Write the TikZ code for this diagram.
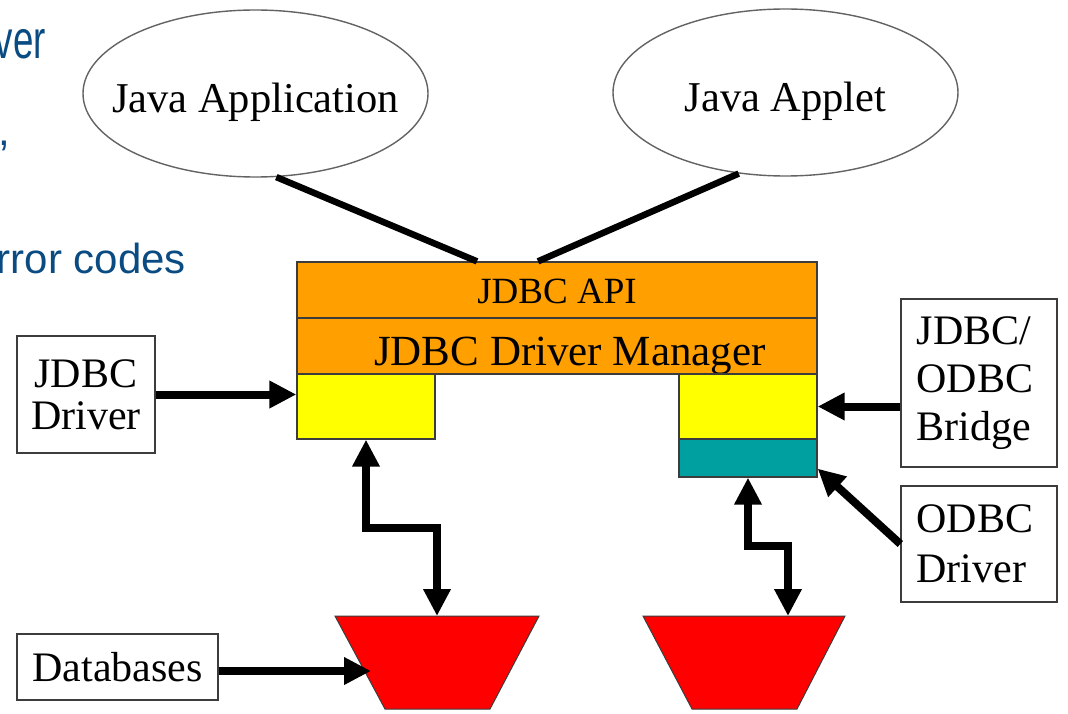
\documentclass[tikz,border=0pt]{standalone}
\usepackage{fontspec}
\usepackage{graphicx}
\setmainfont{Liberation Serif}
\newfontfamily\slidesans{Liberation Sans}
\usetikzlibrary{arrows.meta,shapes.geometric,calc}
\definecolor{orangebox}{RGB}{255,160,0}
\definecolor{yellowbox}{RGB}{255,255,0}
\definecolor{tealbox}{RGB}{0,160,160}
\definecolor{dbred}{RGB}{255,0,0}
\definecolor{slideblue}{RGB}{10,75,130}
\definecolor{edgegray}{RGB}{60,60,60}
\begin{document}
\begin{tikzpicture}[x=1pt,y=-1pt,
 oval/.style={ellipse, draw=edgegray!80, line width=1.4pt, minimum width=345pt, minimum height=167pt, inner sep=0pt, text height=38pt, text depth=0pt, font=\fontsize{42.5}{46}\selectfont},
 layer/.style={rectangle, draw=edgegray, line width=1.3pt, fill=orangebox, minimum width=520pt, minimum height=56pt, inner sep=0pt},
 slot/.style={rectangle, draw=edgegray, line width=1.3pt, minimum width=138pt, inner sep=0pt},
 labelbox/.style={rectangle, draw=edgegray, line width=1.3pt, fill=white, inner sep=0pt},
 dbshape/.style={fill=dbred, draw=edgegray, line width=1pt},
 link/.style={line width=6.5pt},
 arr/.style={line width=8pt, -{Triangle[length=27pt,width=26pt]}},
 dblarr/.style={line width=8pt, {Triangle[length=27pt,width=26pt]}-{Triangle[length=27pt,width=26pt]}},
 slidetext/.style={text=slideblue, font=\slidesans\fontsize{42}{42}\selectfont, inner sep=0pt}
]
\useasboundingbox (0,0) rectangle (1068,714);
\fill[white] (0,0) rectangle (1068,714);

% background slide text (cut off)
\node[slidetext, anchor=base east] (t1) at (46,59) {\fontsize{54}{54}\selectfont\scalebox{0.68}[1]{ver}};
\node[slidetext, anchor=base east] (t2) at (10,146) {,};
\node[slidetext, anchor=base east] (t3) at (186,273) {rror codes};

% ellipses
\node[oval] (app) at (255.5,93.5) {\makebox[0pt]{Java Application}};
\node[oval] (applet) at (785.5,92.5) {\makebox[0pt]{Java Applet}};

% central stack
\node[layer, font=\fontsize{37}{40}\selectfont, text height=26pt, text depth=0pt] (api) at (557,290) {JDBC API};
\node[layer, font=\fontsize{43}{46}\selectfont, text height=38pt, text depth=0pt] (mgr) at (557,346) {\hspace*{26pt}JDBC Driver Manager};
\node[slot, fill=yellowbox, minimum height=65pt] (ydrv) at (366,406.5) {};
\node[slot, fill=yellowbox, minimum height=65pt] (ybr) at (748,406.5) {};
\node[slot, fill=tealbox, minimum height=38pt] (odbcslot) at (748,458) {};

% label boxes
\node[labelbox, align=center, minimum width=138pt, minimum height=117pt, font=\fontsize{42}{42}\selectfont] (drv) at (86,394.5) {JDBC\\Driver};
\node[labelbox, align=left, minimum width=156pt, minimum height=168pt, font=\fontsize{42}{48}\selectfont] (bridge) at (979,383) {\hspace*{-8pt}JDBC/\\\hspace*{-8pt}ODBC\\\hspace*{-8pt}Bridge};
\node[labelbox, align=left, minimum width=156pt, minimum height=116pt, font=\fontsize{42}{50}\selectfont] (odbc) at (979,544) {\hspace*{-8pt}ODBC\\\hspace*{-8pt}Driver};
\node[labelbox, minimum width=201pt, minimum height=66pt, font=\fontsize{42}{46}\selectfont] (dbl) at (117.5,667) {Databases};

% databases (trapezoids)
\filldraw[dbshape] (335,616) -- (539,616) -- (490,709) -- (385,709) -- cycle;
\filldraw[dbshape] (643,616) -- (845,616) -- (797,709) -- (692,709) -- cycle;
\coordinate (db1top) at (437,616);
\coordinate (db1left) at (371,671);
\coordinate (db2top) at (788,616);

% connectors
\draw[link] (app.-76) -- ([xshift=-80pt]api.north);
\draw[link] (applet.-120) -- ([xshift=-19pt]api.north);
\draw[arr] (drv.east) -- (drv.east -| ydrv.west);
\draw[arr] (bridge.west |- ybr.east) -- (ybr.east);
\draw[arr] (odbc.west) -- ([yshift=9pt]odbcslot.south east);
\draw[dblarr] (ydrv.south) -- ++(0,88) -| (db1top);
\draw[dblarr] (odbcslot.south) -- ++(0,68) -| (db2top);
\draw[arr] (dbl.east |- db1left) -- (db1left);
\end{tikzpicture}
\end{document}
